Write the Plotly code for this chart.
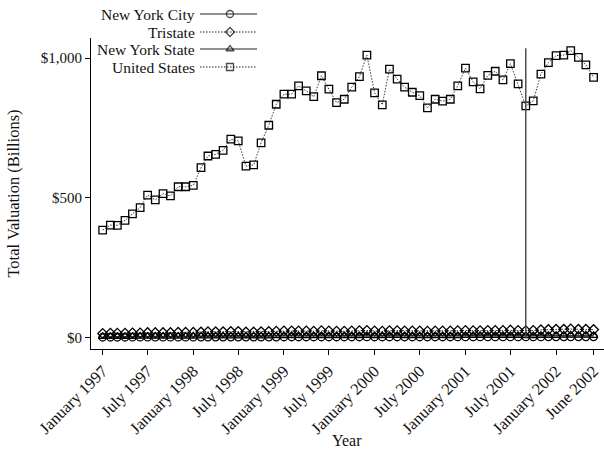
import pandas as pd
import plotly.graph_objects as go

# Monthly observations, January 1997 through June 2002
months = pd.date_range("1997-01-01", periods=66, freq="MS")

united_states = [385, 403, 402, 420, 443, 465, 510, 493, 515, 507,
                 540, 540, 545, 608, 650, 656, 670, 710, 704, 614,
                 618, 697, 760, 835, 871, 871, 901, 883, 862, 937,
                 889, 841, 853, 896, 934, 1011, 876, 833, 961, 925,
                 896, 878, 866, 822, 853, 846, 853, 901, 964, 915,
                 890, 938, 953, 922, 980, 908, 829, 847, 943, 984,
                 1009, 1011, 1027, 1003, 976, 931]

tristate = [15, 16, 16, 16, 17, 17, 18, 18, 18, 18,
            19, 19, 19, 20, 21, 21, 21, 22, 22, 20,
            20, 21, 22, 23, 24, 24, 24, 24, 23, 25,
            24, 23, 23, 24, 25, 26, 24, 23, 25, 25,
            24, 24, 24, 23, 24, 24, 24, 25, 26, 25,
            25, 26, 26, 26, 27, 26, 25, 26, 28, 29,
            30, 30, 31, 30, 30, 29]

new_york_state = [4, 4, 4, 4, 4, 5, 5, 5, 5, 5,
                  5, 5, 5, 6, 6, 6, 6, 6, 6, 6,
                  6, 6, 6, 7, 7, 7, 7, 7, 7, 7,
                  7, 7, 7, 7, 7, 8, 7, 7, 8, 8,
                  7, 7, 7, 7, 7, 7, 7, 7, 8, 8,
                  8, 8, 8, 8, 8, 8, 7, 7, 8, 8,
                  8, 9, 9, 9, 9, 8]

new_york_city = [1.6, 1.7, 1.7, 1.7, 1.8, 1.8, 1.9, 1.9, 1.9, 1.9,
                 2.0, 2.0, 2.0, 2.1, 2.2, 2.2, 2.2, 2.3, 2.3, 2.2,
                 2.2, 2.2, 2.3, 2.4, 2.5, 2.5, 2.5, 2.5, 2.5, 2.6,
                 2.5, 2.5, 2.5, 2.6, 2.6, 2.7, 2.6, 2.5, 2.6, 2.6,
                 2.6, 2.6, 2.6, 2.5, 2.6, 2.6, 2.6, 2.7, 2.7, 2.7,
                 2.7, 2.8, 2.8, 2.8, 2.9, 2.8, 2.7, 2.8, 2.9, 3.0,
                 3.0, 3.1, 3.1, 3.1, 3.0, 3.0]

tick_dates = ["1997-01-01", "1997-07-01", "1998-01-01", "1998-07-01",
              "1999-01-01", "1999-07-01", "2000-01-01", "2000-07-01",
              "2001-01-01", "2001-07-01", "2002-01-01", "2002-06-01"]
tick_labels = ["January 1997", "July 1997", "January 1998", "July 1998",
               "January 1999", "July 1999", "January 2000", "July 2000",
               "January 2001", "July 2001", "January 2002", "June 2002"]

y_ticks = [0, 500, 1000]
y_labels = ["$0", "$500", "$1,000"]

event_date = "2001-09-01"
event_top = 1035

FONT = "Liberation Serif"
INK = "#111111"
DOTTED = "1.5px,1.5px"

series = [
    ("New York City", new_york_city, "circle-open", "solid"),
    ("Tristate", tristate, "diamond-open", DOTTED),
    ("New York State", new_york_state, "triangle-up-open", "solid"),
    ("United States", united_states, "square-open", DOTTED),
]

fig = go.Figure()

for name, values, symbol, dash in series:
    fig.add_trace(go.Scatter(
        x=months, y=values, name=name, mode="lines+markers",
        line=dict(color="#222222", width=0.9, dash=dash),
        marker=dict(symbol=symbol, size=7.5, color="#000000",
                    line=dict(width=1.3, color="#000000")),
        showlegend=False,
    ))

# Key drawn on a separate pixel-unit axis pair (origin at the top-left)
legend_rows = [14, 32, 49, 67]
for (name, values, symbol, dash), row in zip(series, legend_rows):
    fig.add_trace(go.Scatter(
        x=[200, 230, 257], y=[row, row, row], mode="lines+markers",
        xaxis="x2", yaxis="y2",
        line=dict(color="#222222", width=1.0, dash=dash),
        marker=dict(symbol=symbol, size=[0, 7, 0], color="#000000",
                    line=dict(width=1.3, color="#000000")),
        showlegend=False, hoverinfo="skip",
    ))
    fig.add_annotation(x=197, y=row, xref="x2", yref="y2", text=name,
                       showarrow=False, xanchor="right", yanchor="middle",
                       font=dict(family=FONT, size=15.5, color=INK))

# x-axis title placed below the rotated tick labels
fig.add_annotation(x=0.499, y=-0.2636, xref="paper", yref="paper", text="Year",
                   showarrow=False, xanchor="center", yanchor="middle",
                   font=dict(family=FONT, size=16, color=INK))

fig.add_shape(type="line", xref="x", yref="y",
              x0=event_date, x1=event_date, y0=0, y1=event_top,
              line=dict(color="#444444", width=1.4))

fig.update_layout(
    width=604, height=455,
    margin=dict(l=91, r=0, t=0, b=106),
    paper_bgcolor="white", plot_bgcolor="rgba(0,0,0,0)",
    font=dict(family=FONT, size=15, color=INK),
    xaxis=dict(
        domain=[0, 1], range=["1996-11-15", "2002-07-13"],
        tickmode="array", tickvals=tick_dates, ticktext=tick_labels,
        tickangle=-45, ticks="outside", ticklen=5, tickwidth=1,
        tickcolor="#000000", showline=True, linecolor="#000000", linewidth=1,
        showgrid=False, zeroline=False, automargin=False,
        tickfont=dict(family=FONT, size=16.5),
    ),
    yaxis=dict(
        domain=[0, 311 / 349], range=[-40.4, 1072],
        tickmode="array", tickvals=y_ticks, ticktext=y_labels,
        ticks="outside", ticklen=5, tickwidth=1, tickcolor="#000000",
        showline=True, linecolor="#000000", linewidth=1,
        showgrid=False, zeroline=False, automargin=False,
        title=dict(text="Total Valuation (Billions)",
                   font=dict(family=FONT, size=16.5), standoff=16),
        tickfont=dict(family=FONT, size=15),
    ),
    xaxis2=dict(domain=[0, 1], range=[91, 604], anchor="y2",
                visible=False, fixedrange=True),
    yaxis2=dict(domain=[0, 1], range=[349, 0], anchor="x2",
                visible=False, fixedrange=True),
)

fig.write_html("out.html")
